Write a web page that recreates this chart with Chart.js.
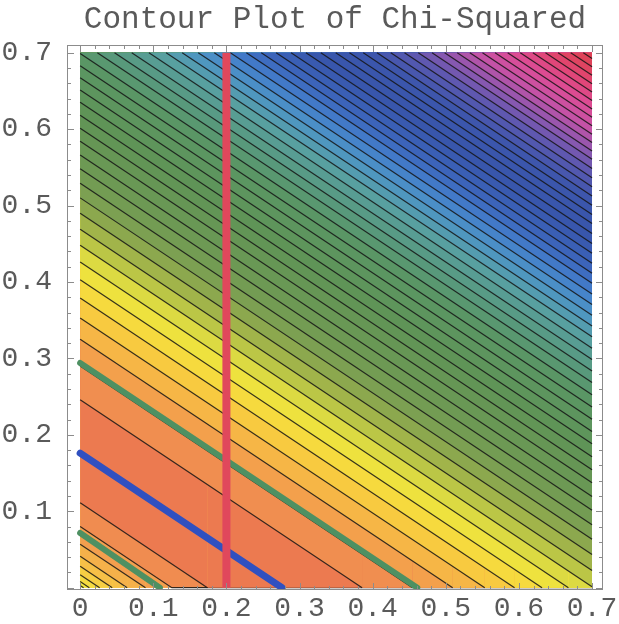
<!DOCTYPE html>
<html>
<head>
<meta charset="utf-8">
<script src="https://cdn.jsdelivr.net/npm/chart.js@4.4.1/dist/chart.umd.min.js"></script>
<style>
html,body{margin:0;padding:0;background:#ffffff;}
#wrap{width:619px;height:624px;position:relative;}
</style>
</head>
<body>
<div id="wrap"><canvas id="c" width="619" height="624"></canvas></div>
<script>
// ---------------- data ----------------
const chartTitle = 'Contour Plot of Chi-Squared';
const xTickValues = [0, 0.1, 0.2, 0.3, 0.4, 0.5, 0.6, 0.7];
const xTickLabels = ['0', '0.1', '0.2', '0.3', '0.4', '0.5', '0.6', '0.7'];
const yTickValues = [0.1, 0.2, 0.3, 0.4, 0.5, 0.6, 0.7];
const yTickLabels = ['0.1', '0.2', '0.3', '0.4', '0.5', '0.6', '0.7'];
const plotRangeX = [0, 0.7];
const plotRangeY = [0, 0.7];

// contour levels: value of (y + 0.638*x) along each black contour line
const contourSlope = 0.638;
const contourLevels = [
  0.003, 0.008, 0.017, 0.028, 0.041, 0.057, 0.080, 0.111,
  0.246, 0.290, 0.325, 0.353, 0.379, 0.403, 0.426, 0.448, 0.469, 0.490,
  0.510, 0.529, 0.548, 0.566, 0.584, 0.601, 0.618, 0.635, 0.651, 0.667,
  0.683, 0.699, 0.715, 0.730, 0.745, 0.760, 0.775, 0.789, 0.803, 0.817,
  0.831, 0.845, 0.858, 0.871, 0.884, 0.897, 0.910, 0.923, 0.935, 0.947,
  0.959, 0.971, 0.983, 0.995, 1.007, 1.018, 1.029, 1.040, 1.051, 1.062,
  1.073, 1.084, 1.095, 1.106, 1.117, 1.128, 1.139
];

// thick overlay lines
const redLineX = [0.2, 0.2];
const redLineY = [0, 0.7];
const greenUpperX = [0, 0.461];
const greenUpperY = [0.294, 0];
const blueLineX = [0, 0.276];
const blueLineY = [0.176, 0];
const greenLowerX = [0, 0.109];
const greenLowerY = [0.0716, 0];

// ---------------- styles ----------------
const palette = [
  [0.000,'#F0EC40'],[0.012,'#F5DC42'],[0.030,'#F6C446'],[0.050,'#F5B04A'],
  [0.070,'#F39E4E'],[0.095,'#F08C50'],[0.178,'#EC7A50'],[0.268,'#F08E50'],
  [0.307,'#F3A04C'],[0.339,'#F6B646'],[0.366,'#F8CA40'],[0.391,'#F6DA3E'],
  [0.414,'#EEE23E'],[0.437,'#DCDA42'],[0.458,'#BCC646'],[0.480,'#A0B44A'],
  [0.500,'#8CA84E'],[0.520,'#7CA052'],[0.550,'#6E9A54'],[0.620,'#609456'],
  [0.690,'#5A9664'],[0.730,'#589A80'],[0.770,'#58A0A2'],[0.800,'#4E96C4'],
  [0.830,'#4480CC'],[0.860,'#3C66BC'],[0.900,'#3856AC'],[0.950,'#3C56AC'],
  [0.985,'#5858B0'],[1.015,'#8A58B0'],[1.045,'#C452A6'],[1.075,'#DC4C96'],
  [1.100,'#E0467A'],[1.125,'#E0445E'],[1.150,'#DE4050']
];
function hexToRgb(h){return [parseInt(h.substr(1,2),16),parseInt(h.substr(3,2),16),parseInt(h.substr(5,2),16)];}
function colorAt(s){
  if (s <= palette[0][0]) return palette[0][1];
  for (let i = 1; i < palette.length; i++) {
    if (s <= palette[i][0]) {
      const a = palette[i-1], b = palette[i];
      const t = (s - a[0]) / (b[0] - a[0]);
      const ca = hexToRgb(a[1]), cb = hexToRgb(b[1]);
      const c = ca.map((v,k)=>Math.round(v + (cb[k]-v)*t));
      return 'rgb(' + c.join(',') + ')';
    }
  }
  return palette[palette.length-1][1];
}
const contourLineColor = 'rgba(20,20,20,0.85)';
const axisTextColor = '#5a5a5a';
const frameColor = '#8c8c8c';

// polyline of a contour level, clamped to the plot box
function contourPath(s){
  const xs = [plotRangeX[0], plotRangeX[1]];
  const xTop = (s - plotRangeY[1]) / contourSlope;
  const xBot = (s - plotRangeY[0]) / contourSlope;
  if (xTop > plotRangeX[0] && xTop < plotRangeX[1]) xs.push(xTop);
  if (xBot > plotRangeX[0] && xBot < plotRangeX[1]) xs.push(xBot);
  xs.sort((a,b)=>a-b);
  return xs.map(x => ({x: x, y: Math.min(plotRangeY[1], Math.max(plotRangeY[0], s - contourSlope * x))}));
}
function pairs(xs, ys){ return xs.map((x,i)=>({x:x, y:ys[i]})); }

const datasets = [];
// thick overlay lines (drawn on top)
datasets.push({data: pairs(redLineX, redLineY), borderColor:'#E0485C', borderWidth:8, borderCapStyle:'butt', order:0});
datasets.push({data: pairs(blueLineX, blueLineY), borderColor:'#3050C0', borderWidth:7, borderCapStyle:'round', order:1});
datasets.push({data: pairs(greenUpperX, greenUpperY), borderColor:'#4E9062', borderWidth:6, borderCapStyle:'round', order:2});
datasets.push({data: pairs(greenLowerX, greenLowerY), borderColor:'#4E9062', borderWidth:6, borderCapStyle:'round', order:3});

const sortedLevels = contourLevels.slice().sort((a,b)=>a-b);
const topValue = plotRangeY[1] + contourSlope * plotRangeX[1];
sortedLevels.forEach((s, i) => {
  const next = i + 1 < sortedLevels.length ? sortedLevels[i+1] : topValue;
  datasets.push({
    data: contourPath(s),
    borderColor: contourLineColor,
    borderWidth: 1.2,
    backgroundColor: colorAt((s + next) / 2),
    fill: {value: plotRangeY[1]},
    segment: {borderColor: ctx => (ctx.p0.parsed.y === ctx.p1.parsed.y ? 'rgba(0,0,0,0)' : contourLineColor)},
    order: 1000 - i
  });
});
// base band below the lowest contour
datasets.push({
  data: [{x: plotRangeX[0], y: plotRangeY[0]}, {x: plotRangeX[1], y: plotRangeY[0]}],
  borderWidth: 0, borderColor: 'rgba(0,0,0,0)',
  backgroundColor: colorAt(sortedLevels[0] / 2),
  fill: {value: plotRangeY[1]}, order: 2000
});
datasets.forEach(d => { d.showLine = true; d.pointRadius = 0; d.pointHoverRadius = 0; d.tension = 0; });

// frame with inward tick marks (like the original's frame)
const framePlugin = {
  id: 'frameTicks',
  afterDatasetsDraw(chart){
    const {ctx, chartArea: a, scales} = chart;
    const xs = scales.x, ys = scales.y;
    ctx.save();
    ctx.strokeStyle = frameColor;
    ctx.lineWidth = 1;
    ctx.strokeRect(Math.round(a.left)+0.5, Math.round(a.top)+0.5, Math.round(a.right-a.left)-1, Math.round(a.bottom-a.top)-1);
    const major = 7, minor = 4;
    ctx.beginPath();
    for (let i = 0; i < xTickValues.length; i++) {
      for (let k = 0; k < 5; k++) {
        const v = xTickValues[i] + k * 0.02;
        if (v > 0.7001) break;
        const L = k === 0 ? major : minor;
        const px = Math.round(xs.getPixelForValue(v)) + 0.5;
        ctx.moveTo(px, a.bottom); ctx.lineTo(px, a.bottom - L);
        ctx.moveTo(px, a.top); ctx.lineTo(px, a.top + L);
      }
    }
    const yAll = [0].concat(yTickValues);
    for (let i = 0; i < yAll.length; i++) {
      for (let k = 0; k < 5; k++) {
        const v = yAll[i] + k * 0.02;
        if (v > 0.7001) break;
        const L = k === 0 ? major : minor;
        const py = Math.round(ys.getPixelForValue(v)) + 0.5;
        ctx.moveTo(a.left, py); ctx.lineTo(a.left + L, py);
        ctx.moveTo(a.right, py); ctx.lineTo(a.right - L, py);
      }
    }
    ctx.stroke();
    ctx.restore();
  }
};

const tickFont = {family: "'Liberation Mono', monospace", size: 28, weight: 'normal'};

new Chart(document.getElementById('c').getContext('2d'), {
  type: 'scatter',
  data: {datasets: datasets},
  options: {
    responsive: false,
    animation: false,
    devicePixelRatio: 1,
    events: [],
    layout: {padding: {left: 0, right: 16, top: 0, bottom: 0}},
    plugins: {
      legend: {display: false},
      tooltip: {enabled: false},
      filler: {propagate: false},
      title: {
        display: true, text: chartTitle, fullSize: false, color: axisTextColor,
        font: {family: "'Liberation Mono', monospace", size: 31, weight: 'normal', lineHeight: 1},
        padding: {top: 4, bottom: 10}
      }
    },
    scales: {
      x: {
        type: 'linear', min: -0.018, max: 0.715,
        grid: {display: false}, border: {display: false},
        afterBuildTicks: s => { s.ticks = xTickValues.map(v => ({value: v})); },
        afterFit: s => { s.height = 34; s.paddingLeft = 0; s.paddingRight = 0; },
        ticks: {color: axisTextColor, font: tickFont, padding: -6, maxRotation: 0, autoSkip: false,
          callback: (v) => { const i = xTickValues.findIndex(t => Math.abs(t - v) < 1e-9); return i >= 0 ? xTickLabels[i] : ''; }}
      },
      y: {
        type: 'linear', min: -0.003, max: 0.710,
        grid: {display: false}, border: {display: false},
        afterBuildTicks: s => { s.ticks = yTickValues.map(v => ({value: v})); },
        afterFit: s => { s.width = 67; s.paddingTop = 0; s.paddingBottom = 0; },
        ticks: {color: axisTextColor, font: tickFont, padding: 7, autoSkip: false,
          callback: (v) => { const i = yTickValues.findIndex(t => Math.abs(t - v) < 1e-9); return i >= 0 ? yTickLabels[i] : ''; }}
      }
    }
  },
  plugins: [framePlugin]
});
</script>
</body>
</html>
